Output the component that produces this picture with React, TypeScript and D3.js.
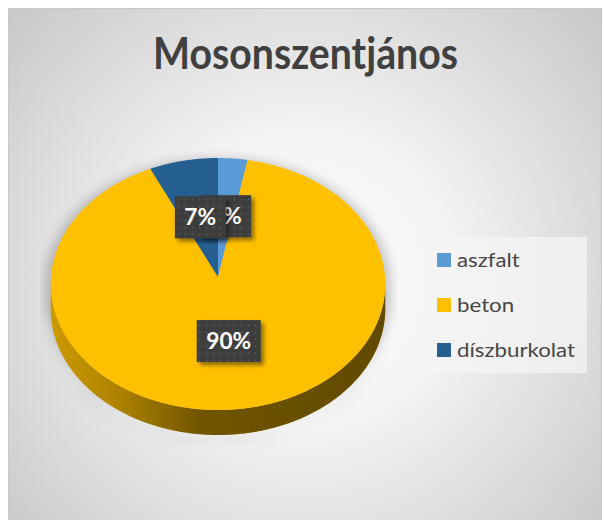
import React from "react";
import * as d3 from "d3";

const TITLE = "Mosonszentjános";
const categories = ["aszfalt", "beton", "díszburkolat"];
const values = [3, 90, 7];
const colors = ["#5B9BD5", "#FFC000", "#255E91"];
const labelTexts = values.map((v) => `${v}%`);

const W = 604;
const H = 520;
const FONT = "Lato, 'Open Sans', sans-serif";

let canvasCtx: CanvasRenderingContext2D | null = null;
function measure(text: string, font: string): number {
  if (!canvasCtx) {
    const c = document.createElement("canvas");
    canvasCtx = c.getContext("2d");
  }
  if (!canvasCtx) return text.length * 50;
  canvasCtx.font = font;
  return canvasCtx.measureText(text).width;
}

// pie geometry (projected disc with mild perspective)
const cx = 218;
const cy = 277;
const rx0 = 167;
const ry0 = 125.6;
const persp = 0.0556;
const depth = 25;

const xS = d3.scaleLinear().domain([-1, 1]).range([cx - rx0, cx + rx0]);
const yS = d3.scaleLinear().domain([-1, 1]).range([cy + ry0, cy - ry0]);

function proj(theta: number, r = 1): [number, number] {
  const X = r * Math.sin(theta);
  const Z = r * Math.cos(theta);
  const g = 1 / (1 + persp * Z);
  return [xS(X * g), yS(Z * g)];
}

function arcPoints(a0: number, a1: number, r = 1): [number, number][] {
  const n = Math.max(2, Math.ceil((a1 - a0) / 0.01));
  const pts: [number, number][] = [];
  for (let i = 0; i <= n; i++) pts.push(proj(a0 + ((a1 - a0) * i) / n, r));
  return pts;
}

const line = d3.line<[number, number]>();

// Calibri-like narrow rendering: size chosen by cap height, width compressed
const TITLE_SIZE = 43;
const TITLE_W = 305;
const LEGEND_SIZE = 19.5;
const LEGEND_REF_W = 118; // width of "díszburkolat"
const LABEL_SIZE = 22.5;
const LABEL_REF_W = 45; // width of "90%"

export default function App() {
  const arcs = d3
    .pie<number>()
    .sort(null)
    .value((d) => d)(values);

  const thL = Math.acos(-persp);
  const thR = 2 * Math.PI - Math.acos(-persp);

  const sides = arcs
    .map((a, i) => {
      const s = Math.max(a.startAngle, thL);
      const e = Math.min(a.endAngle, thR);
      if (e <= s) return null;
      const top = arcPoints(s, e);
      const bot = top.slice().reverse().map(([x, y]) => [x, y + depth] as [number, number]);
      return { d: line([...top, ...bot]) + "Z", color: colors[i], key: i };
    })
    .filter(Boolean) as { d: string; color: string; key: number }[];

  const frontTop = arcPoints(thL, thR);
  const frontWall =
    line([...frontTop, ...frontTop.slice().reverse().map(([x, y]) => [x, y + depth] as [number, number])]) + "Z";

  const full = arcPoints(0, 2 * Math.PI);
  const silhouette =
    line(full) + "Z" + line(full.map(([x, y]) => [x, y + depth] as [number, number])) + "Z" + frontWall;

  const legendFont = `400 ${LEGEND_SIZE}px ${FONT}`;
  const legendK = LEGEND_REF_W / measure("díszburkolat", legendFont);
  const labelFont = `700 ${LABEL_SIZE}px ${FONT}`;
  const labelK = LABEL_REF_W / measure("90%", labelFont);

  const legendY = d3.scalePoint<string>().domain(categories).range([260, 350]);

  return (
    <svg
      width={W}
      height={H}
      style={{ position: "absolute", left: 0, top: 0 }}
      xmlns="http://www.w3.org/2000/svg"
    >
      <defs>
        <radialGradient id="bg" gradientUnits="userSpaceOnUse" cx={305} cy={280} r={430}>
          <stop offset="0" stopColor="#ffffff" />
          <stop offset="0.35" stopColor="#f3f3f3" />
          <stop offset="1" stopColor="#c3c3c3" />
        </radialGradient>
        <linearGradient id="wallShade" gradientUnits="userSpaceOnUse" x1={cx - rx0} x2={cx + rx0} y1={0} y2={0}>
          <stop offset="0" stopColor="#000" stopOpacity={0.2} />
          <stop offset="0.2" stopColor="#000" stopOpacity={0.32} />
          <stop offset="0.45" stopColor="#000" stopOpacity={0.56} />
          <stop offset="1" stopColor="#000" stopOpacity={0.62} />
        </linearGradient>
        <filter id="pieShadow" x="-20%" y="-20%" width="140%" height="140%">
          <feMorphology operator="dilate" radius={5} />
          <feGaussianBlur stdDeviation={6} />
        </filter>
        <filter id="boxShadow" x="-30%" y="-30%" width="160%" height="160%">
          <feDropShadow dx={3} dy={3} stdDeviation={2} floodColor="#000" floodOpacity={0.45} />
        </filter>
        <clipPath id="plotClip">
          <rect x={40} y={100} width={358} height={346} />
        </clipPath>
        <pattern id="dots" width={7} height={7} patternUnits="userSpaceOnUse">
          <rect width={7} height={7} fill="#3d3d3d" />
          <circle cx={3.5} cy={3.5} r={0.9} fill="#5a5a5a" />
        </pattern>
      </defs>

      <rect x={8.5} y={8.5} width={593} height={530} fill="url(#bg)" stroke="#c8c8c8" strokeWidth={1} />

      <text
        x={305.5}
        y={69}
        textAnchor="middle"
        fontFamily={FONT}
        fontWeight={700}
        fontSize={TITLE_SIZE}
        textLength={TITLE_W}
        lengthAdjust="spacingAndGlyphs"
        fill="#404040"
      >
        {TITLE}
      </text>

      {/* shadow */}
      <g clipPath="url(#plotClip)">
        <path d={silhouette} transform="translate(0,6)" fill="#000" opacity={0.22} filter="url(#pieShadow)" />
      </g>

      {/* side wall */}
      {sides.map((s) => (
        <path key={s.key} d={s.d} fill={s.color} />
      ))}
      <path d={frontWall} fill="url(#wallShade)" />

      {/* top face */}
      {arcs.map((a, i) => (
        <path key={i} d={line([[cx, cy], ...arcPoints(a.startAngle, a.endAngle)]) + "Z"} fill={colors[i]} />
      ))}

      {/* data labels */}
      {arcs.map((a, i) => {
        const mid = (a.startAngle + a.endAngle) / 2;
        const [lx, ly] = proj(mid, 0.5);
        const tw = measure(labelTexts[i], labelFont) * labelK;
        const bw = tw + 19;
        const bh = 42;
        return (
          <g key={i}>
            <rect x={lx - bw / 2} y={ly - bh / 2} width={bw} height={bh} fill="url(#dots)" filter="url(#boxShadow)" />
            <text
              x={lx}
              y={ly + LABEL_SIZE * 0.36}
              textAnchor="middle"
              fontFamily={FONT}
              fontWeight={700}
              fontSize={LABEL_SIZE}
              textLength={tw}
              lengthAdjust="spacingAndGlyphs"
              fill="#ffffff"
            >
              {labelTexts[i]}
            </text>
          </g>
        );
      })}

      {/* legend */}
      <rect x={425} y={237} width={162} height={136} fill="#f4f4f4" opacity={0.75} />
      {categories.map((c, i) => {
        const y = legendY(c) as number;
        return (
          <g key={c}>
            <rect x={437} y={y - 7} width={14} height={14} fill={colors[i]} />
            <text
              x={457}
              y={y + 7}
              fontFamily={FONT}
              fontSize={LEGEND_SIZE}
              textLength={measure(c, legendFont) * legendK}
              lengthAdjust="spacingAndGlyphs"
              fill="#474747"
            >
              {c}
            </text>
          </g>
        );
      })}
    </svg>
  );
}
